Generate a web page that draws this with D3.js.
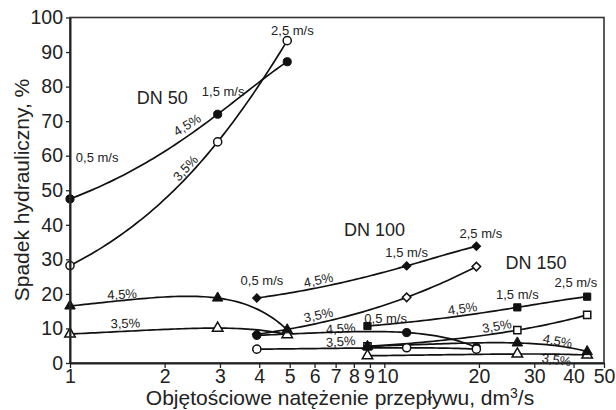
<!DOCTYPE html>
<html>
<head>
<meta charset="utf-8">
<script src="https://cdn.jsdelivr.net/npm/d3@7"></script>
<style>
    body { margin: 0; background: #fff; }
    svg text { font-family: "Liberation Sans", Arial, sans-serif; fill: #222; }
</style>
</head>
<body>
<div id="chart-area"></div>
<script>
// flow rates for 0.5 / 1.5 / 2.5 m/s in each pipe size, dm3/s
const qDN50 = [1.0, 2.95, 4.91];
const qDN100 = [3.93, 11.78, 19.63];
const qDN150 = [8.84, 26.5, 44.2];

// upper family (circles / diamonds / squares)
const dn50_45 = [47.5, 72.0, 87.2];
const dn50_35 = [28.2, 64.0, 93.3];
const dn100_45 = [18.8, 28.1, 33.8];
const dn100_35 = [8.3, 19.0, 27.9];
const dn150_45 = [10.7, 16.1, 19.2];
const dn150_35 = [4.8, 9.5, 13.9];

// lower family (triangles / circles)
const tri50_45 = [16.5, 18.8, 9.6];
const tri50_35 = [8.4, 10.1, 8.2];
const circ100_45 = [8.0, 8.8, 4.5];
const circ100_35 = [4.0, 4.4, 4.0];
const tri150_45 = [4.8, 5.8, 3.3];
const tri150_35 = [2.1, 2.6, 2.3];

const xTicks = [1, 2, 3, 4, 5, 6, 7, 8, 9, 10, 20, 30, 40, 50];
const yTicks = [0, 10, 20, 30, 40, 50, 60, 70, 80, 90, 100];

// drawn in this order, later ones on top
const series = [
    { q: qDN150, v: dn150_35, sym: 'square', open: true },
    { q: qDN100, v: dn100_35, sym: 'diamond', open: true },
    { q: qDN50, v: dn50_35, sym: 'circle', open: true },
    { q: qDN50, v: dn50_45, sym: 'circle', open: false },
    { q: qDN100, v: dn100_45, sym: 'diamond', open: false },
    { q: qDN150, v: dn150_45, sym: 'square', open: false },
    { q: qDN50, v: tri50_35, sym: 'triangle', open: true },
    { q: qDN50, v: tri50_45, sym: 'triangle', open: false },
    { q: qDN100, v: circ100_45, sym: 'circle', open: false },
    { q: qDN100, v: circ100_35, sym: 'circle', open: true },
    { q: qDN150, v: tri150_35, sym: 'triangle', open: true },
    { q: qDN150, v: tri150_45, sym: 'triangle', open: false }
];

// annotation texts at data coordinates
const labels = [
    { t: "2,5 m/s", q: 5.10, v: 96.1, a: 0 },
    { t: "1,5 m/s", q: 3.07, v: 78.7, a: 0 },
    { t: "DN 50", q: 1.965, v: 76.7, a: 0, big: true },
    { t: "0,5 m/s", q: 1.22, v: 59.6, a: 0 },
    { t: "4,5%", q: 2.36, v: 68.9, a: -32 },
    { t: "3,5%", q: 2.33, v: 56.4, a: -47 },
    { t: "DN 100", q: 9.31, v: 38.5, a: 0, big: true },
    { t: "2,5 m/s", q: 20.28, v: 37.6, a: 0 },
    { t: "1,5 m/s", q: 11.78, v: 31.9, a: 0 },
    { t: "0,5 m/s", q: 4.08, v: 23.8, a: 0 },
    { t: "4,5%", q: 6.17, v: 24.0, a: -12 },
    { t: "3,5%", q: 6.17, v: 13.9, a: -12 },
    { t: "DN 150", q: 30.4, v: 28.9, a: 0, big: true },
    { t: "2,5 m/s", q: 40.7, v: 23.2, a: 0 },
    { t: "1,5 m/s", q: 26.5, v: 19.7, a: 0 },
    { t: "0,5 m/s", q: 10.1, v: 12.9, a: 0 },
    { t: "4,5%", q: 17.73, v: 15.8, a: -8 },
    { t: "3,5%", q: 22.8, v: 10.7, a: -10 },
    { t: "4,5%", q: 7.26, v: 10.0, a: -4 },
    { t: "3,5%", q: 7.26, v: 6.2, a: -4 },
    { t: "4,5%", q: 1.465, v: 19.9, a: -3 },
    { t: "3,5%", q: 1.50, v: 11.5, a: -2 },
    { t: "4,5%", q: 35.6, v: 6.4, a: 10 },
    { t: "3,5%", q: 35.3, v: 0.9, a: 8 }
];

const W = 616, H = 410;
const margin = { left: 70, right: 12, top: 17.5, bottom: 47 };
const width = W - margin.left - margin.right,
    height = H - margin.top - margin.bottom;

const svg = d3.select("#chart-area")
    .append("svg")
    .attr("width", W)
    .attr("height", H);

const g = svg.append("g")
    .attr("transform", `translate(${margin.left}, ${margin.top})`);

const x = d3.scaleLog().domain([1, 50]).range([0, width]);
const y = d3.scaleLinear().domain([0, 100]).range([height, 0]);

// labels first so the axis line sits over the low one
g.selectAll(".note")
    .data(labels)
    .enter().append("text")
    .attr("class", "note")
    .attr("text-anchor", "middle")
    .attr("dominant-baseline", "central")
    .style("font-size", d => d.big ? "18px" : "13px")
    .attr("transform", d => `translate(${x(d.q)},${y(d.v)}) rotate(${d.a})`)
    .text(d => d.t);

// smooth curve through the 3 points, bent in linear flow space (as the original was)
function smooth(qs, vs) {
    const [q0, q1, q2] = qs, [v0, v1, v2] = vs;
    const f = q => v0 * (q - q1) * (q - q2) / ((q0 - q1) * (q0 - q2))
        + v1 * (q - q0) * (q - q2) / ((q1 - q0) * (q1 - q2))
        + v2 * (q - q0) * (q - q1) / ((q2 - q0) * (q2 - q1));
    const n = 60;
    return d3.range(n + 1).map(i => {
        const q = Math.exp(Math.log(q0) + (Math.log(q2) - Math.log(q0)) * i / n);
        return [q, f(q)];
    });
}

const line = d3.line()
    .x(d => x(d[0]))
    .y(d => y(d[1]));

g.selectAll(".curve")
    .data(series)
    .enter().append("path")
    .attr("class", "curve")
    .attr("d", s => line(smooth(s.q, s.v)))
    .attr("fill", "none")
    .attr("stroke", "#111")
    .attr("stroke-width", 1.7);

const symbols = {
    circle: d3.symbol().type(d3.symbolCircle).size(52),
    triangle: d3.symbol().type(d3.symbolTriangle).size(48),
    square: d3.symbol().type(d3.symbolSquare).size(52),
    diamond: d3.symbol().type(d3.symbolSquare).size(36)
};

series.forEach(s => {
    g.append("g").selectAll("path")
        .data(s.q.map((q, i) => [q, s.v[i]]))
        .enter().append("path")
        .attr("d", symbols[s.sym]())
        .attr("transform", d => `translate(${x(d[0])},${y(d[1])})` + (s.sym === 'diamond' ? ' rotate(45)' : ''))
        .attr("fill", s.open ? "#fff" : "#111")
        .attr("stroke", "#111")
        .attr("stroke-width", s.open ? 1.5 : 1);
});

// frame
g.append("rect")
    .attr("width", width)
    .attr("height", height)
    .attr("fill", "none")
    .attr("stroke", "#333")
    .attr("stroke-width", 1.6);

const xAxisCall = d3.axisBottom(x)
    .tickValues(xTicks)
    .tickFormat(d3.format("d"))
    .tickSize(5)
    .tickSizeOuter(0)
    .tickPadding(1);

const xAxisGroup = g.append("g")
    .attr("transform", `translate(0, ${height})`)
    .call(xAxisCall);

// "9" and "10" sit tight together as in the original
xAxisGroup.selectAll(".tick text")
    .attr("dx", d => d === 9 ? -1 : d === 10 ? 3 : 0);

const yAxisCall = d3.axisLeft(y)
    .tickValues(yTicks)
    .tickSize(4)
    .tickSizeOuter(0)
    .tickPadding(3);

const yAxisGroup = g.append("g")
    .call(yAxisCall);

[xAxisGroup, yAxisGroup].forEach(ax => {
    ax.selectAll("path").attr("stroke", "#222").attr("stroke-width", 2);
    ax.selectAll("line").attr("stroke", "#222").attr("stroke-width", 1.3);
    ax.selectAll("text")
        .style("font-size", "19.5px")
        .style("font-family", '"Liberation Sans", Arial, sans-serif')
        .attr("fill", "#222");
});

// axis titles
const xTitle = svg.append("text")
    .attr("x", 340)
    .attr("y", 405)
    .attr("text-anchor", "middle")
    .style("font-size", "21px");
xTitle.append("tspan").text("Objętościowe natężenie przepływu, dm");
xTitle.append("tspan").attr("dy", -7).style("font-size", "14px").text("3");
xTitle.append("tspan").attr("dy", 7).text("/s");

svg.append("text")
    .attr("transform", "translate(29, 190) rotate(-90)")
    .attr("text-anchor", "middle")
    .style("font-size", "21px")
    .text("Spadek hydrauliczny, %");
</script>
</body>
</html>
